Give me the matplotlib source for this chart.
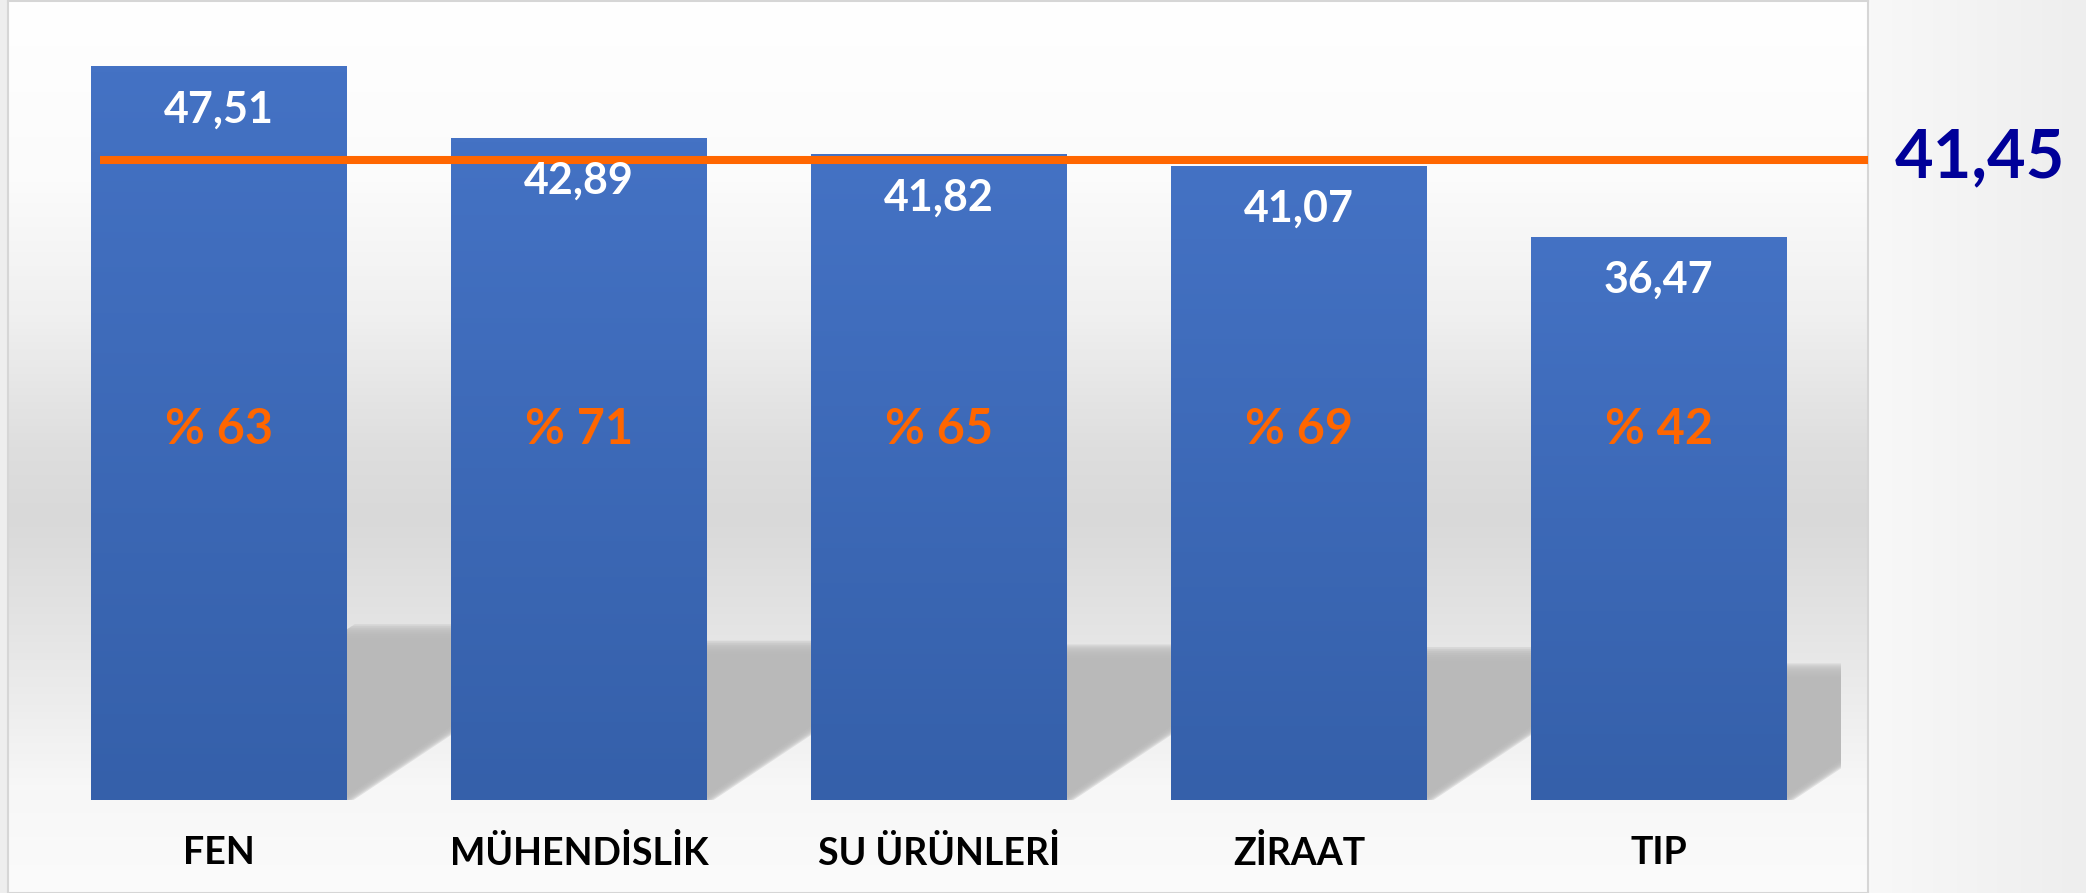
import numpy as np
import matplotlib.pyplot as plt
from matplotlib.patches import Polygon, Rectangle
from matplotlib.colors import LinearSegmentedColormap

plt.rcParams['font.family'] = ['Lato', 'DejaVu Sans']
plt.rcParams['font.weight'] = 'bold'

# veriler
fakulteler = ['FEN', 'MÜHENDİSLİK', 'SU ÜRÜNLERİ', 'ZİRAAT', 'TIP']
puanlar = [47.51, 42.89, 41.82, 41.07, 36.47]
oranlar = [63, 71, 65, 69, 42]
ortalama = 41.45

W, H = 2086, 893
fig = plt.figure(figsize=(W / 100, H / 100), dpi=100, facecolor='#eeeeee')

# sag taraftaki hafif gri panel
sag = fig.add_axes([1868 / W, 0, 1 - 1868 / W, 1], zorder=0)
sag.imshow(np.linspace(0, 1, 64).reshape(1, -1), extent=[0, 1, 0, 1], aspect='auto',
           cmap=LinearSegmentedColormap.from_list('sag', ['#f8f8f8', '#eeeeee']))
sag.axis('off')

# grafik alani arka plani (dikey gradyan)
bg = fig.add_axes([8 / W, 0, 1860 / W, 892 / H], zorder=1)
stops = [(0.0, '#ffffff'), (0.2, '#fbfbfb'), (0.35, '#f0f0f0'), (0.5, '#dedede'),
         (0.58, '#d9d9d9'), (0.68, '#e2e2e2'), (0.78, '#ececec'), (0.88, '#f7f7f7'),
         (1.0, '#fbfbfb')]
bg_cmap = LinearSegmentedColormap.from_list('bg', stops)
bg.imshow(np.linspace(0, 1, 256).reshape(-1, 1), extent=[0, 1, 0, 1], aspect='auto', cmap=bg_cmap)
bg.set_xticks([])
bg.set_yticks([])
for s in bg.spines.values():
    s.set_color('#d6d6d6')
    s.set_linewidth(1.5)

# ana eksen
ax = fig.add_axes([8 / W, 93 / H, 1860 / W, 799 / H], zorder=2)
ax.patch.set_alpha(0)
ax.axis('off')
xlim = (-0.5856, 4.581)
ylim = (0, 51.75)

x = np.arange(len(fakulteler))
sx = 1860 / (xlim[1] - xlim[0])  # px / birim
sy = 799 / (ylim[1] - ylim[0])

bars = ax.bar(x, puanlar, width=0.71, color='#4472C4', zorder=3)

# cubuk golgeleri (yumusak kenarli paralelkenar)
kirp = Rectangle((xlim[0], -5), (1841 - 8) / sx, 80, transform=ax.transData)
n = 8
for b, v in zip(bars, puanlar):
    x0 = b.get_x()
    x1 = x0 + b.get_width()
    hs = 0.23 * v
    kay = 1.5 * hs * sy / sx
    for k in range(n):
        e = (k - (n - 1) / 2) * 2.0
        ht = hs - e / sy
        de = e / sx
        pts = [(x0, 0), (x1 - de, 0), (x1 - de + kay * ht / hs, ht), (x0 + kay * ht / hs, ht)]
        p = Polygon(pts, closed=True, facecolor='#b9b9b9', edgecolor='none', alpha=0.35, zorder=2)
        ax.add_patch(p)
        p.set_clip_path(kirp)

# cubuk gradyani
bar_cmap = LinearSegmentedColormap.from_list('bar', ['#3560aa', '#4472c4'])
for b in bars:
    x0 = b.get_x()
    im = ax.imshow(np.linspace(0, 1, 128).reshape(-1, 1)[::-1], extent=[x0, x0 + b.get_width(), 0, b.get_height()],
                   aspect='auto', cmap=bar_cmap, zorder=3.5)
    im.set_clip_path(b)

ax.set_xlim(*xlim)
ax.set_ylim(*ylim)

# ortalama cizgisi
ax.plot([-0.33, xlim[1]], [ortalama, ortalama], color='#ff6600', lw=5.8, solid_capstyle='butt', zorder=5)

for i, v in enumerate(puanlar):
    ax.text(i, v - 2.8, f'{v:.2f}'.replace('.', ','), ha='center', va='center', color='white',
            fontsize=31, fontweight='bold', zorder=6)
    ax.text(i, 24.0, f'% {oranlar[i]}', ha='center', va='center', color='#ff6600',
            fontsize=35, fontweight='bold', zorder=6)
    ax.text(i, -53 / sy, fakulteler[i], ha='center', va='center', color='black',
            fontsize=27, fontweight='bold', clip_on=False, zorder=6)

fig.text(1980 / W, 1 - 158 / H, f'{ortalama:.2f}'.replace('.', ','), ha='center', va='center',
         color='#000099', fontsize=48, fontweight='bold', zorder=6)

fig.savefig('out.png', dpi=100, facecolor=fig.get_facecolor())
